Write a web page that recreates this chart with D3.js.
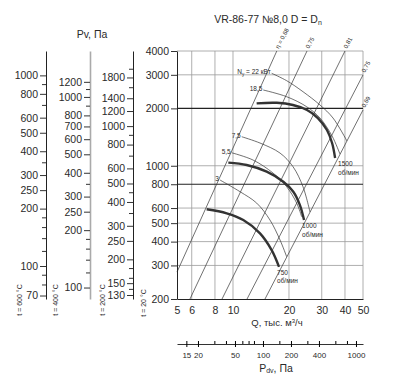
<!DOCTYPE html>
<html>
<head>
<meta charset="utf-8">
<script src="https://cdn.jsdelivr.net/npm/d3@7"></script>
<style>
body { margin: 0; background: #fff; }
svg text { font-family: "Liberation Sans", Arial, sans-serif; fill: #2a2a2a; }
</style>
</head>
<body>
<svg id="chart" width="402" height="386"></svg>
<script>
// Q, thousand m3/h and P, Pa (at 20 C)
var qTicks = [5, 6, 8, 10, 20, 30, 40, 50];
var pTicks = [200, 300, 400, 500, 600, 800, 1000, 2000, 3000, 4000];
var pBold = [800, 2000];

// temperature scales: labelled ticks, minor ticks
var t600 = [1000, 800, 600, 500, 400, 300, 250, 200, 100, 70];
var t600minor = [900, 700, 350, 180, 160, 140, 120, 90, 80];
var t400 = [1200, 1000, 800, 700, 600, 500, 400, 300, 250, 200, 100];
var t400minor = [1100, 900, 350, 180, 160, 140, 120];
var t200 = [1800, 1400, 1200, 1000, 800, 600, 500, 400, 300, 250, 200, 150, 130];
var t200minor = [2000, 1600, 900, 700, 450, 350, 180, 160, 140];

// dynamic pressure scale
var pdvRange = [11.9, 1190];
var pdvTicks = [15, 20, 50, 100, 200, 400, 1000];
var pdvMinor = [30, 40, 60, 70, 80, 150, 300, 600, 800];

// fan curves [Q, P]
var rpm1500 = [[13.4, 2126], [17.2, 2139], [21.0, 2083], [25.0, 1961], [28.6, 1780], [32.0, 1540], [34.1, 1316], [35.4, 1098]];
var rpm1000 = [[9.44, 1038], [11.85, 1009], [15.18, 931], [18.64, 825], [21.1, 731], [22.9, 622], [24.1, 519]];
var rpm750 = [[7.22, 591], [9.25, 563], [11.36, 519], [13.97, 442], [16.14, 361], [17.68, 295]];
var rpmNames = ["1500", "1000", "750"];

// motor power lines, kW
var n22 = [[16.14, 3055], [19.44, 2794], [23.79, 2446], [29.37, 2083], [34.5, 1780], [41.0, 1348]];
var n185 = [[14.55, 2497], [19.44, 2303], [24.9, 2040], [29.37, 1780], [34.1, 1432], [37.6, 1152]];
var n75 = [[11.14, 1420], [13.97, 1316], [17.9, 1166], [21.02, 989], [23.79, 776], [25.94, 572]];
var n55 = [[9.84, 1170], [12.81, 1072], [16.41, 916], [19.44, 776], [22.0, 637], [23.41, 540]];
var n3 = [[8.51, 842], [10.91, 731], [13.41, 637], [15.81, 519], [17.9, 408], [19.44, 333]];
var powerNames = ["= 22 кВт", "18,5", "7,5", "5,5", "3"];

// efficiency lines, top end then bottom end
var effLines = [
    [[17.2, 4000], [5, 277]],
    [[25.0, 4000], [5.87, 200]],
    [[40.0, 4000], [8.73, 200]],
    [[50, 2995], [11.9, 200]],
    [[50, 1961], [14.86, 200]]
];
var effNames = ["η = 0,68", "0,75", "0,81", "0,75", "0,69"];

var svg = d3.select("#chart");

var x = d3.scaleLog().domain([5, 50]).range([177, 363]);
var y = d3.scaleLog().domain([200, 4000]).range([299, 51]);

// grid
var grid = svg.append("g").attr("class", "grid");
grid.selectAll("line.v").data(qTicks.slice(1)).enter().append("line")
    .attr("x1", function (d) { return x(d); }).attr("x2", function (d) { return x(d); })
    .attr("y1", y(200)).attr("y2", y(4000))
    .style("stroke", "#9a9a9a").style("stroke-width", 0.8);
grid.selectAll("line.h").data(pTicks.slice(1)).enter().append("line")
    .attr("x1", x(5)).attr("x2", x(50))
    .attr("y1", function (d) { return y(d); }).attr("y2", function (d) { return y(d); })
    .style("stroke", function (d) { return pBold.indexOf(d) >= 0 ? "#222" : "#9a9a9a"; })
    .style("stroke-width", function (d) { return pBold.indexOf(d) >= 0 ? 1.2 : 0.8; });

// efficiency lines
svg.append("g").selectAll("line").data(effLines).enter().append("line")
    .attr("x1", function (d) { return x(d[0][0]); }).attr("y1", function (d) { return y(d[0][1]); })
    .attr("x2", function (d) { return x(d[1][0]); }).attr("y2", function (d) { return y(d[1][1]); })
    .style("stroke", "#333").style("stroke-width", 0.7);

svg.append("g").selectAll("text").data(effLines).enter().append("text")
    .attr("transform", function (d) {
        return "translate(" + [x(d[0][0]) + 2, y(d[0][1]) - 2] + ") rotate(-62)";
    })
    .style("font-size", "6px")
    .text(function (d, i) { return effNames[i]; });

var line = d3.line()
    .x(function (d) { return x(d[0]); })
    .y(function (d) { return y(d[1]); })
    .curve(d3.curveCatmullRom);

// power lines
var powers = [n22, n185, n75, n55, n3];
svg.append("g").selectAll("path").data(powers).enter().append("path")
    .attr("d", line)
    .style("fill", "none").style("stroke", "#333").style("stroke-width", 0.7);

var pl = svg.append("g").selectAll("text").data(powers).enter().append("text")
    .attr("x", function (d) { return x(d[0][0]) - 1; })
    .attr("y", function (d) { return y(d[0][1]) + 1; })
    .attr("text-anchor", "end")
    .style("font-size", "6.5px");
pl.each(function (d, i) {
    var t = d3.select(this);
    if (i == 0) {
        t.append("tspan").text("N");
        t.append("tspan").attr("dy", 1.5).style("font-size", "4.5px").text("у");
        t.append("tspan").attr("dy", -1.5).text(" " + powerNames[0]);
    } else {
        t.text(powerNames[i]);
    }
});

// fan curves
var fans = [rpm1500, rpm1000, rpm750];
svg.append("g").selectAll("path").data(fans).enter().append("path")
    .attr("d", line)
    .style("fill", "none").style("stroke", "#333").style("stroke-width", 2.4);

var fl = svg.append("g").selectAll("text").data(fans).enter().append("text")
    .attr("transform", function (d, i) {
        var e = d[d.length - 1];
        return "translate(" + [x(e[0]) + (i == 0 ? 3 : -2), y(e[1]) + 8] + ")";
    })
    .style("font-size", "6.5px");
fl.append("tspan").attr("x", 0).text(function (d, i) { return rpmNames[i]; });
fl.append("tspan").attr("x", 0).attr("dy", 8.5).text("об/мин");

// main axes
var ax = svg.append("g").attr("transform", "translate(0," + y(200) + ")")
    .call(d3.axisBottom(x).tickValues(qTicks).tickFormat(d3.format("d")).tickSize(0).tickPadding(8).tickSizeOuter(0));
var ay = svg.append("g").attr("transform", "translate(" + x(5) + ",0)")
    .call(d3.axisLeft(y).tickValues(pTicks).tickFormat(d3.format("d")).tickSize(6).tickPadding(2).tickSizeOuter(0));
[ax, ay].forEach(function (a) {
    a.selectAll("text").style("font-size", "10.5px").style("font-family", null);
    a.select(".domain").style("stroke", "#222");
    a.selectAll(".tick line").style("stroke", "#222");
});

// extra pressure axes for hot gas, rho ~ 1/(273+t)
function tempAxis(t, xpos, major, minor, col) {
    var k = 293 / (273 + t);
    var s = d3.scaleLog().domain([200 * k, 4000 * k]).range([299, 51]);
    var g = svg.append("g").attr("transform", "translate(" + xpos + ",0)");
    g.call(d3.axisLeft(s).tickValues(major).tickFormat(d3.format("d")).tickSize(6).tickPadding(2).tickSizeOuter(0));
    var m = svg.append("g").attr("transform", "translate(" + xpos + ",0)");
    m.call(d3.axisLeft(s).tickValues(minor).tickFormat("").tickSize(4).tickSizeOuter(0));
    m.select(".domain").remove();
    g.selectAll("text").style("font-size", "10.5px").style("font-family", null);
    g.select(".domain").style("stroke", col).style("stroke-width", col == "#222" ? 1 : 1.6);
    svg.selectAll("g .tick line").style("stroke", "#333");
}
tempAxis(600, 46, t600, t600minor, "#222");
tempAxis(400, 90, t400, t400minor, "#aaa");
tempAxis(200, 133, t200, t200minor, "#222");

// temperature captions
var tCaps = [["t = 600 °C", 21.5, 300], ["t = 400 °C", 58, 300], ["t = 200 °C", 105, 300], ["t = 20 °C", 146, 303]];
svg.append("g").selectAll("text").data(tCaps).enter().append("text")
    .attr("transform", function (d) { return "translate(" + d[1] + "," + d[2] + ") rotate(-90)"; })
    .attr("text-anchor", "middle")
    .style("font-size", "7px")
    .text(function (d) { return d[0]; });

// dynamic pressure axis
var xd = d3.scaleLog().domain(pdvRange).range([177, 363]);
var ad = svg.append("g").attr("transform", "translate(0,344)")
    .call(d3.axisBottom(xd).tickValues(pdvTicks).tickFormat(d3.format("d")).tickSize(3).tickPadding(5).tickSizeOuter(0));
var adm = svg.append("g").attr("transform", "translate(0,341)")
    .call(d3.axisBottom(xd).tickValues(pdvMinor).tickFormat("").tickSize(3).tickSizeOuter(0));
adm.select(".domain").remove();
svg.append("g").attr("transform", "translate(0,341)")
    .call(d3.axisBottom(xd).tickValues(pdvTicks).tickFormat("").tickSize(3).tickSizeOuter(0))
    .select(".domain").remove();
ad.selectAll("text").style("font-size", "8px").style("font-family", null);
ad.select(".domain").style("stroke", "#333");

// titles
svg.append("text").attr("x", 92).attr("y", 38).attr("text-anchor", "middle")
    .style("font-size", "10.5px").text("Pv, Па");

var tt = svg.append("text").attr("x", 268).attr("y", 23).attr("text-anchor", "middle").style("font-size", "10.5px");
tt.append("tspan").text("VR-86-77 №8,0 D = D");
tt.append("tspan").attr("dy", 1.5).style("font-size", "7px").text("n");

var xq = svg.append("text").attr("x", 277).attr("y", 326).attr("text-anchor", "middle").style("font-size", "9.5px");
xq.append("tspan").text("Q, тыс. м");
xq.append("tspan").attr("dy", -3).style("font-size", "6px").text("3");
xq.append("tspan").attr("dy", 3).text("/ч");

var xp = svg.append("text").attr("x", 276).attr("y", 372).attr("text-anchor", "middle").style("font-size", "10.5px");
xp.append("tspan").text("P");
xp.append("tspan").attr("dy", 1).style("font-size", "7px").text("dv");
xp.append("tspan").attr("dy", -1).text(", Па");
</script>
</body>
</html>
